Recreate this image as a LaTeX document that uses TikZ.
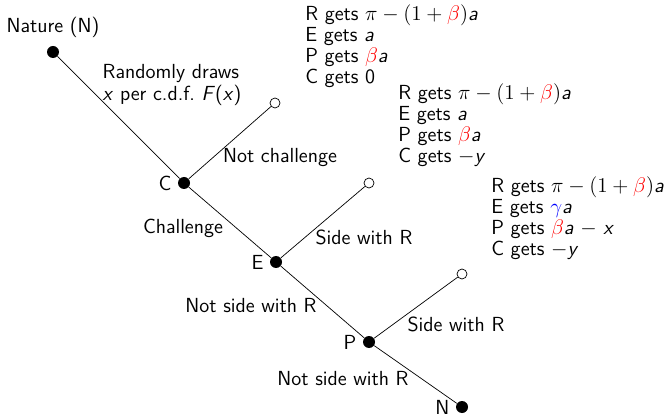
\documentclass[tikz,border=0pt]{standalone}
\usepackage{xcolor}
\usetikzlibrary{positioning}

\begin{document}
\begin{tikzpicture}[every node/.style={font=\sffamily\fontsize{11.6}{12}\selectfont},
  dot/.style={circle,fill,inner sep=0pt,minimum size=2.4mm},
  hollow/.style={circle,draw,fill=white,inner sep=0pt,minimum size=2mm},
  pay/.style={align=left,anchor=west,inner sep=0pt}]
\useasboundingbox (0,0) rectangle (13.34,-8.32);
% decision nodes
\node[dot] (nat) at (1.06,-1.04) {};
\node[dot] (c) at (3.68,-3.66) {};
\node[dot] (e) at (5.52,-5.24) {};
\node[dot] (p) at (7.38,-6.84) {};
\node[dot] (n) at (9.24,-8.14) {};
\node[hollow] (nc) at (5.50,-2.06) {};
\node[hollow] (es) at (7.38,-3.66) {};
\node[hollow] (ps) at (9.24,-5.48) {};
\node[above=1pt of nat] (natlab) {Nature (N)};
\node[left=0pt of c] (clab) {C};
\node[left=0pt of e] (elab) {E};
\node[left=0pt of p] (plab) {P};
\node[left=0pt of n] (nlab) {N};
% branches
\draw (nat) -- (c);
\draw (c) -- (nc);
\draw (c) -- (e);
\draw (e) -- (es);
\draw (e) -- (p);
\draw (p) -- (ps);
\draw (p) -- (n);
\node[align=left] (draws) at (3.44,-1.70) {Randomly draws\\\textit{x} per c.d.f.\ \textit{F}(\textit{x})};
\node (notch) at (5.6,-3.16) {Not challenge};
\node (chal) at (3.66,-4.56) {Challenge};
\node (eside) at (7.28,-4.74) {Side with R};
\node (enot) at (5.02,-6.12) {Not side with R};
\node (pside) at (9.12,-6.48) {Side with R};
\node (pnot) at (6.86,-7.58) {Not side with R};
% payoffs
\node[pay] (pay1) at (6.10,-0.93) {R gets $\pi-(1+\textcolor{red}{\beta})$\textit{a}\\E gets \textit{a}\\P gets $\textcolor{red}{\beta}$\textit{a}\\C gets 0};
\node[pay] (pay2) at (7.96,-2.51) {R gets $\pi-(1+\textcolor{red}{\beta})$\textit{a}\\E gets \textit{a}\\P gets $\textcolor{red}{\beta}$\textit{a}\\C gets $-$\textit{y}};
\node[pay] (pay3) at (9.82,-4.37) {R gets $\pi-(1+\textcolor{red}{\beta})$\textit{a}\\E gets $\textcolor{blue}{\gamma}$\textit{a}\\P gets $\textcolor{red}{\beta}$\textit{a} $-$ \textit{x}\\C gets $-$\textit{y}};
\end{tikzpicture}
\end{document}
